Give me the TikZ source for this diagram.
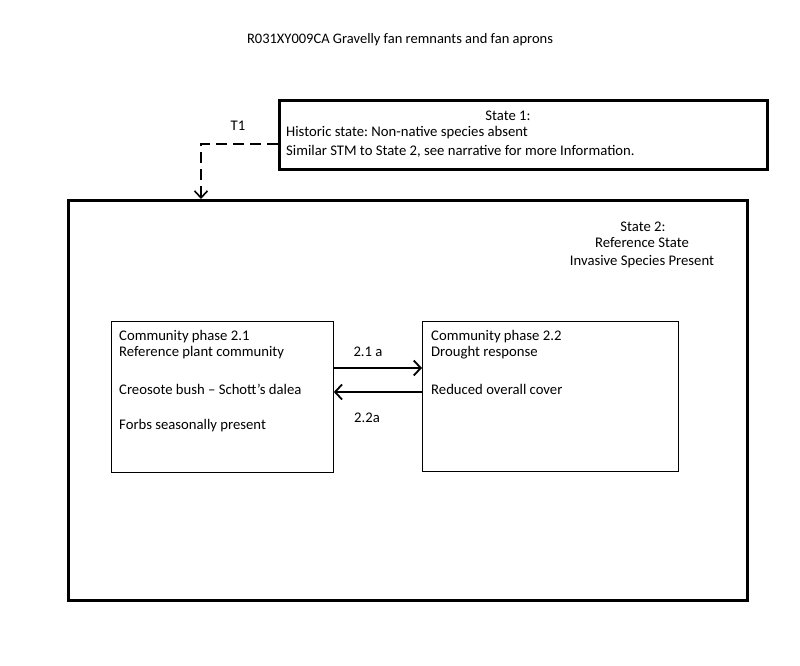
\documentclass[tikz,border=0pt]{standalone}
\usepackage{fontspec}
\setmainfont{Carlito}
\usetikzlibrary{arrows.meta}
\frenchspacing
\begin{document}
\begin{tikzpicture}[x=1pt,y=-1pt,
  every node/.style={inner sep=0pt,font=\fontsize{14.7}{17}\selectfont},
  statebox/.style={draw,line width=2.6pt},
  phasebox/.style={draw,line width=0.8pt},
  txt/.style={anchor=west},
  trans/.style={line width=1.3pt,-{Straight Barb[length=7pt,width=15pt,line width=1.8pt]}},
  dtrans/.style={line width=1.1pt,dash pattern=on 11pt off 6pt,-{Straight Barb[length=7pt,width=13pt,line width=1.6pt]}}]
\useasboundingbox (0,0) rectangle (800,666);
\node[font=\fontsize{14.5}{17}\selectfont] (title) at (400,40) {R031XY009CA Gravelly fan remnants and fan aprons};
% State 1
\node[statebox,minimum width=488pt,minimum height=69pt,anchor=north west] (s1) at (278,99) {};
\node (s1t) at (508,116) {State 1:};
\node[txt] (s1a) at (286,133) {Historic state: Non-native species absent};
\node[txt] (s1b) at (286,151) {Similar STM to State 2, see narrative for more Information.};
% State 2
\node[statebox,minimum width=679pt,minimum height=400pt,anchor=north west] (s2) at (67,199) {};
\node (s2a) at (643,227) {State 2:};
\node (s2b) at (642,243) {Reference State};
\node (s2c) at (642,262) {Invasive Species Present};
% T1
\coordinate (c1) at (201,144);
\coordinate (c2) at (201,199);
\draw[dtrans] (s1.west |- c1) -- (c1) -- (c2);
\node (t1) at (238,126) {T1};
% phases
\node[phasebox,minimum width=222pt,minimum height=151pt,anchor=north west] (p1) at (111,321) {};
\node[phasebox,minimum width=256pt,minimum height=150pt,anchor=north west] (p2) at (422,321) {};
\node[txt] (p1a) at (119,337) {Community phase 2.1};
\node[txt] (p1b) at (119,353) {Reference plant community};
\node[txt] (p1c) at (119,389) {Creosote bush – Schott’s dalea};
\node[txt] (p1d) at (119,426) {Forbs seasonally present};
\node[txt] (p2a) at (431,337) {Community phase 2.2};
\node[txt] (p2b) at (431,353) {Drought response};
\node[txt] (p2c) at (431,389) {Reduced overall cover};
\coordinate (a1) at (333,368);
\coordinate (a2) at (422,392);
\draw[trans] (a1) -- (p2.west |- a1);
\draw[trans] (a2) -- (p1.east |- a2);
\node (l1) at (368,352) {2.1 a};
\node (l2) at (367,418) {2.2a};
\end{tikzpicture}
\end{document}
